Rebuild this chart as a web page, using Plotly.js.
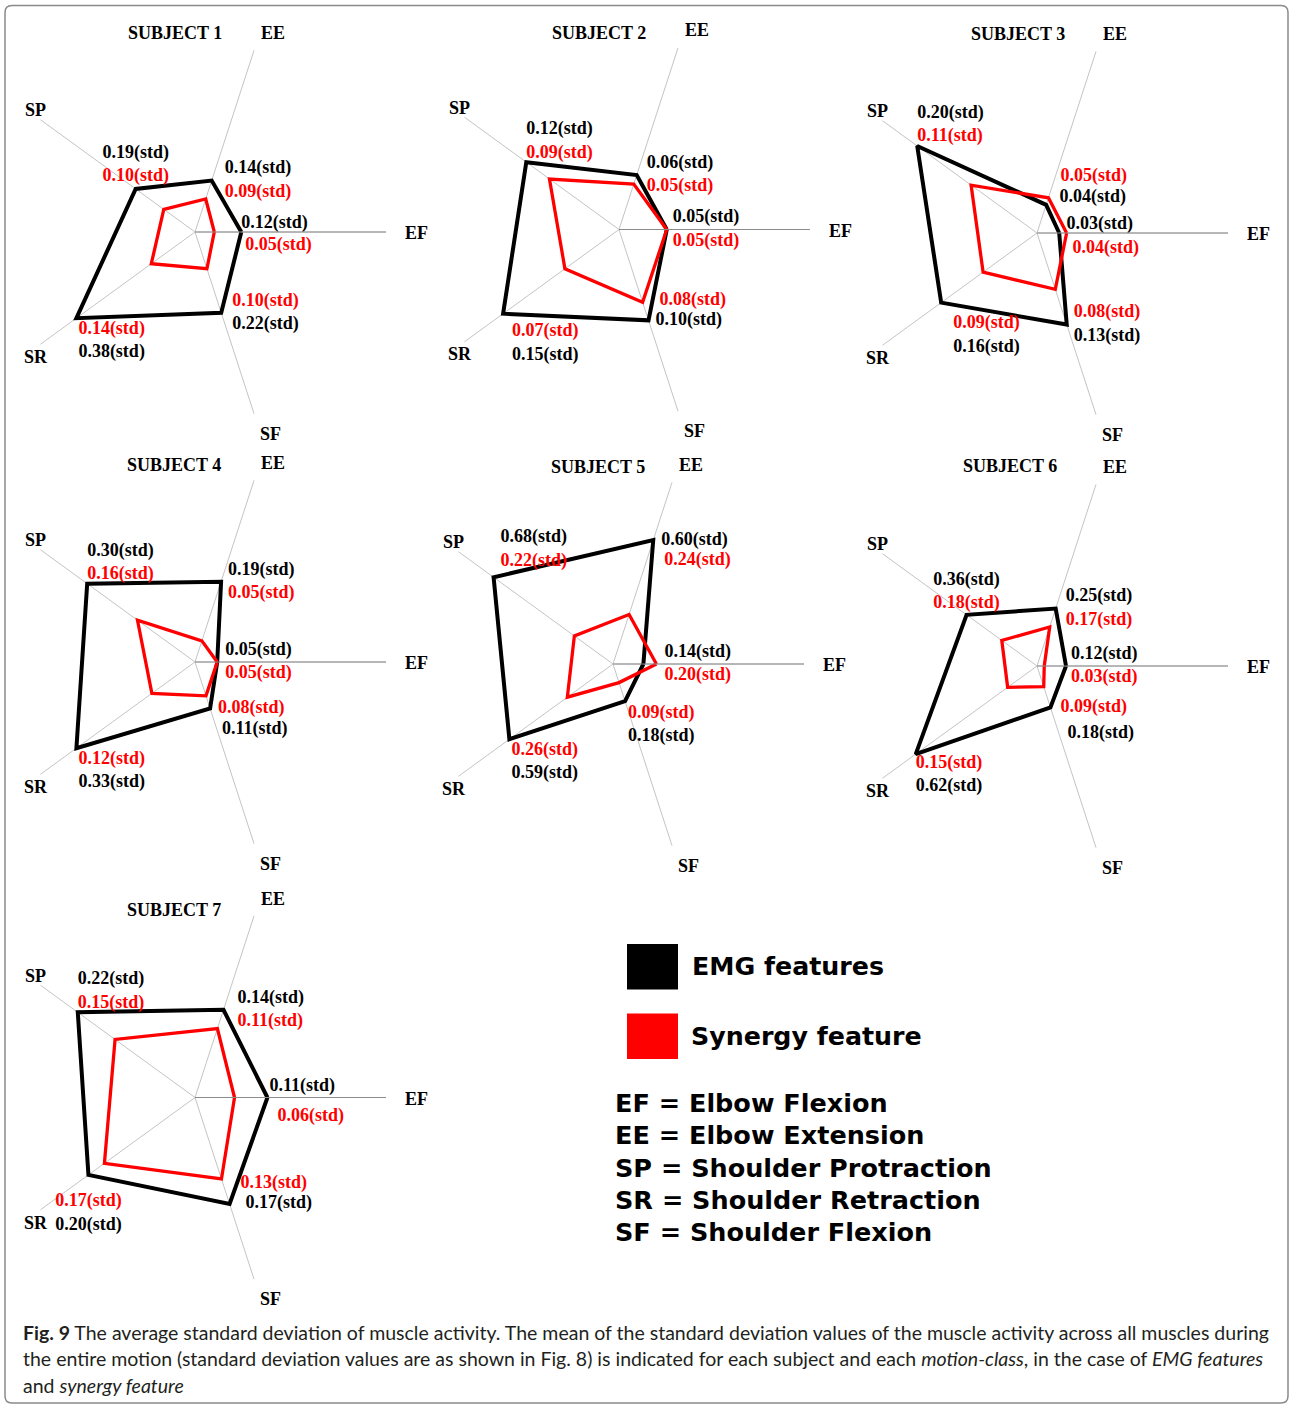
<!DOCTYPE html>
<html><head><meta charset="utf-8">
<script src="https://cdn.plot.ly/plotly-3.0.1.min.js"></script>
<style>html,body{margin:0;padding:0;background:#fff}#chart{width:1291px;height:1408px}</style>
</head><body><div id="chart"></div>
<script>
// ---------------- DATA ----------------
const categories = ['EF', 'EE', 'SP', 'SR', 'SF'];
const subjectNames = ['SUBJECT 1', 'SUBJECT 2', 'SUBJECT 3', 'SUBJECT 4', 'SUBJECT 5', 'SUBJECT 6', 'SUBJECT 7'];
// order of values: EF, EE, SP, SR, SF
const emgS1 = [0.12, 0.14, 0.19, 0.38, 0.22];
const synS1 = [0.05, 0.09, 0.10, 0.14, 0.10];
const emgS2 = [0.05, 0.06, 0.12, 0.15, 0.10];
const synS2 = [0.05, 0.05, 0.09, 0.07, 0.08];
const emgS3 = [0.03, 0.04, 0.20, 0.16, 0.13];
const synS3 = [0.04, 0.05, 0.11, 0.09, 0.08];
const emgS4 = [0.05, 0.19, 0.30, 0.33, 0.11];
const synS4 = [0.05, 0.05, 0.16, 0.12, 0.08];
const emgS5 = [0.14, 0.60, 0.68, 0.59, 0.18];
const synS5 = [0.20, 0.24, 0.22, 0.26, 0.09];
const emgS6 = [0.12, 0.25, 0.36, 0.62, 0.18];
const synS6 = [0.03, 0.17, 0.18, 0.15, 0.09];
const emgS7 = [0.11, 0.14, 0.22, 0.20, 0.17];
const synS7 = [0.06, 0.11, 0.15, 0.17, 0.13];
const emgAll = [emgS1, emgS2, emgS3, emgS4, emgS5, emgS6, emgS7];
const synAll = [synS1, synS2, synS3, synS4, synS5, synS6, synS7];
const legendNames = ['EMG features', 'Synergy feature'];
const definitions = ['EF = Elbow Flexion', 'EE = Elbow Extension', 'SP = Shoulder Protraction',
  'SR = Shoulder Retraction', 'SF = Shoulder Flexion'];

// ---------------- LAYOUT / STYLE ----------------
const W = 1291, H = 1408;
const RADIUS = 191;
const centers = [[195, 232], [619, 229.5], [1037, 233], [195, 662], [613, 664], [1037, 666], [195, 1097.5]];
const radialMax = [0.495, 0.2, 0.258, 0.43, 0.88, 0.79, 0.29];
const titlePos = [[175, 32.7], [599.3, 32.7], [1017.8, 34], [174.3, 465], [598.3, 466.7], [1010, 466], [174.3, 910]];
const axisLabelOffset = [[221, 1], [77.5, -199], [-160, -122], [-159, 125], [75.5, 201.5]];
// value-label placement per category (EF, EE, SP, SR, SF):
//   ['block', textposition, offset]  -> both labels as one two-line text
//   ['split', [pos, offset], [pos, offset]] -> upper line and lower line placed separately
const labelPlacement = [
  [['split', ['top right', 0], ['bottom right', 4]], ['block', 'middle right', 13], ['block', 'top center', 3],
   ['block', 'bottom right', 2], ['block', 'middle right', 11]],
  [['block', 'middle right', 6], ['block', 'middle right', 10], ['block', 'top right', 0],
   ['block', 'bottom right', 9], ['split', ['top right', 11], ['middle right', 7]]],
  [['split', ['top right', 0], ['bottom right', 6]], ['split', ['top right', 12], ['middle right', 11]], ['block', 'top right', 0],
   ['block', 'bottom right', 12], ['block', 'middle right', 7]],
  [['block', 'middle right', 8], ['block', 'middle right', 7], ['block', 'top right', 0],
   ['block', 'bottom right', 2], ['split', ['middle right', 8], ['bottom right', 12]]],
  [['block', 'middle right', 8], ['split', ['middle right', 8], ['bottom right', 11]], ['block', 'top right', 7],
   ['block', 'bottom right', 2], ['block', 'bottom right', 3]],
  [['block', 'middle right', 5], ['block', 'middle right', 10], ['block', 'top center', 2],
   ['block', 'bottom right', 0], ['split', ['middle right', 10], ['bottom right', 17]]],
  [['split', ['top right', 2], ['bottom right', 10]], ['block', 'middle right', 14], ['block', 'top right', 0],
   ['block', 'bottom center', 18], ['split', ['top right', 11], ['middle right', 16]]]
];
const redFirstDefault = [false, false, false, true, true];
const redFirstOverride = {2: [false, true, false, true, true]};

const BLACK = '#000000', RED = '#ff0000';
const serif = 'Liberation Serif, Times New Roman, serif';
const px = x => x / W;
const py = y => 1 - y / H;
const offsetToSize = r => (r <= 1 ? 0 : 1.6 * (r - 1));

const traces = [];
const layout = {
  width: W, height: H,
  margin: {l: 0, r: 0, t: 0, b: 0},
  paper_bgcolor: '#ffffff',
  showlegend: false,
  annotations: [],
  shapes: []
};

const closed = arr => arr.concat([arr[0]]);
const fmt = v => v.toFixed(2) + '(std)';

for (let i = 0; i < 7; i++) {
  const sp = i === 0 ? 'polar' : 'polar' + (i + 1);
  const [cx, cy] = centers[i];
  layout[sp] = {
    domain: {x: [px(cx - RADIUS), px(cx + RADIUS)], y: [py(cy + RADIUS), py(cy - RADIUS)]},
    bgcolor: 'rgba(0,0,0,0)',
    angularaxis: {
      type: 'category', categoryorder: 'array', categoryarray: categories,
      rotation: 0, direction: 'counterclockwise',
      showline: false, showgrid: true, gridcolor: '#c4c4c4', gridwidth: 1,
      ticks: '', showticklabels: false
    },
    radialaxis: {
      range: [0, radialMax[i]], angle: 0, showgrid: false,
      showline: true, linecolor: '#8c8c8c', linewidth: 1,
      ticks: '', showticklabels: false
    }
  };
  const emg = emgAll[i], syn = synAll[i];
  traces.push({
    type: 'scatterpolar', subplot: sp, name: legendNames[0],
    r: closed(emg), theta: closed(categories), mode: 'lines',
    line: {color: BLACK, width: 4}, hoverinfo: 'skip', showlegend: false
  });
  traces.push({
    type: 'scatterpolar', subplot: sp, name: legendNames[1],
    r: closed(syn), theta: closed(categories), mode: 'lines',
    line: {color: RED, width: 3.3}, hoverinfo: 'skip', showlegend: false
  });

  // value labels, anchored at the outer of the two values for each motion
  const redFirst = redFirstOverride[i] || redFirstDefault;
  const anchors = categories.map((c, k) => Math.max(emg[k], syn[k]));
  const blackTxt = k => '<b>' + fmt(emg[k]) + '</b>';
  const redTxt = k => '<b><span style="color:' + RED + '">' + fmt(syn[k]) + '</span></b>';
  const upperTxt = k => (redFirst[k] ? redTxt(k) : blackTxt(k));
  const lowerTxt = k => (redFirst[k] ? blackTxt(k) : redTxt(k));
  const spec = labelPlacement[i];
  const groups = [
    {text: k => spec[k][0] === 'block' ? upperTxt(k) + '<br>' + lowerTxt(k) : '',
     pos: k => spec[k][0] === 'block' ? spec[k][1] : 'middle right',
     off: k => spec[k][0] === 'block' ? spec[k][2] : 0},
    {text: k => spec[k][0] === 'split' ? upperTxt(k) : '',
     pos: k => spec[k][0] === 'split' ? spec[k][1][0] : 'middle right',
     off: k => spec[k][0] === 'split' ? spec[k][1][1] : 0},
    {text: k => spec[k][0] === 'split' ? lowerTxt(k) : '',
     pos: k => spec[k][0] === 'split' ? spec[k][2][0] : 'middle right',
     off: k => spec[k][0] === 'split' ? spec[k][2][1] : 0}
  ];
  groups.forEach(g => {
    const idx = [0, 1, 2, 3, 4];
    traces.push({
      type: 'scatterpolar', subplot: sp, r: anchors, theta: categories,
      mode: 'markers+text', text: idx.map(g.text), textposition: idx.map(g.pos),
      marker: {size: idx.map(k => offsetToSize(g.off(k))), color: 'rgba(0,0,0,0)', line: {width: 0}},
      textfont: {family: serif, size: 18, color: BLACK},
      cliponaxis: false, hoverinfo: 'skip', showlegend: false
    });
  });

  // category (axis) labels
  categories.forEach((c, k) => {
    layout.annotations.push({
      xref: 'paper', yref: 'paper',
      x: px(cx + axisLabelOffset[k][0]), y: py(cy + axisLabelOffset[k][1]),
      xanchor: 'center', yanchor: 'middle', showarrow: false,
      text: '<b>' + c + '</b>', font: {family: serif, size: 18, color: BLACK}
    });
  });
  layout.annotations.push({
    xref: 'paper', yref: 'paper', x: px(titlePos[i][0]), y: py(titlePos[i][1]),
    xanchor: 'center', yanchor: 'middle', showarrow: false,
    text: '<b>' + subjectNames[i] + '</b>', font: {family: serif, size: 18, color: BLACK}
  });
}

// legend (drawn as shapes + text)
const legendSans = 'DejaVu Sans, Verdana, sans-serif';
layout.shapes.push({type: 'rect', xref: 'paper', yref: 'paper', x0: px(627), x1: px(678), y0: py(944), y1: py(989.5),
  fillcolor: BLACK, line: {width: 0}});
layout.shapes.push({type: 'rect', xref: 'paper', yref: 'paper', x0: px(627), x1: px(678), y0: py(1013.5), y1: py(1059),
  fillcolor: RED, line: {width: 0}});
layout.annotations.push({xref: 'paper', yref: 'paper', x: px(690), y: py(966.5), xanchor: 'left', yanchor: 'middle',
  showarrow: false, text: '<b>' + legendNames[0] + '</b>', font: {family: legendSans, size: 25.3, color: BLACK}});
layout.annotations.push({xref: 'paper', yref: 'paper', x: px(688.5), y: py(1036), xanchor: 'left', yanchor: 'middle',
  showarrow: false, text: '<b>' + legendNames[1] + '</b>', font: {family: legendSans, size: 25.3, color: BLACK}});
definitions.forEach((d, k) => {
  layout.annotations.push({xref: 'paper', yref: 'paper', x: px(612.5), y: py(1103.3 + 32.1 * k), xanchor: 'left', yanchor: 'middle',
    showarrow: false, text: '<b>' + d + '</b>', font: {family: legendSans, size: 25.5, color: BLACK}});
});

// caption
const captionLines = [
  '<b>Fig. 9</b> The average standard deviation of muscle activity. The mean of the standard deviation values of the muscle activity across all muscles during',
  'the entire motion (standard deviation values are as shown in Fig. 8) is indicated for each subject and each <i>motion-class</i>, in the case of <i>EMG features</i>',
  'and <i>synergy feature</i>'
];
const captionY = [1332, 1358.5, 1385];
captionLines.forEach((t, k) => {
  layout.annotations.push({xref: 'paper', yref: 'paper', x: px(20.5), y: py(captionY[k]), xanchor: 'left', yanchor: 'middle',
    showarrow: false, align: 'left', text: t, font: {family: 'Lato, Noto Sans, sans-serif', size: 19.5, color: '#231f20'}});
});

// rounded frame
(function () {
  const x0 = 5, y0 = 5.5, x1 = 1288, y1 = 1403, rr = 7;
  const P = (x, y) => px(x) + ',' + py(y);
  const path = 'M' + P(x0 + rr, y0) + ' L' + P(x1 - rr, y0) + ' Q' + P(x1, y0) + ' ' + P(x1, y0 + rr) +
    ' L' + P(x1, y1 - rr) + ' Q' + P(x1, y1) + ' ' + P(x1 - rr, y1) +
    ' L' + P(x0 + rr, y1) + ' Q' + P(x0, y1) + ' ' + P(x0, y1 - rr) +
    ' L' + P(x0, y0 + rr) + ' Q' + P(x0, y0) + ' ' + P(x0 + rr, y0) + ' Z';
  layout.shapes.push({type: 'path', xref: 'paper', yref: 'paper', path: path, line: {color: '#8a8a8a', width: 1.5}});
})();

Plotly.newPlot('chart', traces, layout, {staticPlot: true, displayModeBar: false});
</script>
</body></html>
